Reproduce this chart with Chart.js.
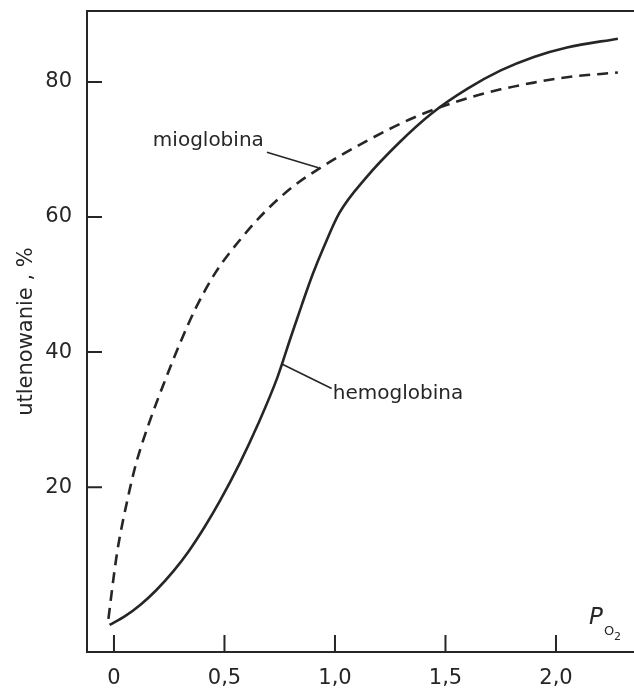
<!DOCTYPE html>
<html>
<head>
<meta charset="utf-8">
<script src="https://cdn.jsdelivr.net/npm/chart.js@4/dist/chart.umd.min.js"></script>
<style>
  body { margin: 0; background: #fff; }
  #wrap { width: 634px; height: 694px; }
</style>
</head>
<body>
<div id="wrap"><canvas id="chart" width="634" height="694"></canvas></div>
<script>
// data (pO2, % oxygenation)
const hbX = [-0.02, 0.05, 0.12, 0.19, 0.27, 0.34, 0.41, 0.48, 0.57, 0.65, 0.74, 0.80, 0.85, 0.90, 0.95, 1.02, 1.14, 1.29, 1.44, 1.60, 1.75, 1.90, 2.05, 2.28];
const hbY = [-0.4, 0.9, 2.6, 4.7, 7.6, 10.6, 14.1, 18.0, 23.6, 29.2, 36.3, 42.2, 47.0, 51.6, 55.6, 60.6, 65.8, 71.0, 75.4, 79.0, 81.7, 83.7, 85.1, 86.4];
const mbX = [-0.025, -0.01, 0.015, 0.06, 0.10, 0.16, 0.23, 0.30, 0.37, 0.46, 0.57, 0.69, 0.81, 0.93, 1.14, 1.37, 1.60, 1.75, 1.90, 2.05, 2.28];
const mbY = [0.5, 4.5, 10.5, 18.0, 23.5, 29.6, 35.7, 41.4, 46.5, 51.8, 56.6, 61.0, 64.5, 67.2, 71.2, 74.9, 77.6, 78.9, 79.9, 80.7, 81.4];

const xTicks = [0, 0.5, 1.0, 1.5, 2.0];
const xTickLabels = ['0', '0,5', '1,0', '1,5', '2,0'];
const yTicks = [20, 40, 60, 80];
const yTickLabels = ['20', '40', '60', '80'];

const ink = '#262626';
const FONT = '"DejaVu Sans", sans-serif';

function pts(xs, ys) {
  return xs.map((x, i) => ({ x: x, y: ys[i] }));
}

// labels + leader lines, placed in data units
const notes = [
  { text: 'mioglobina', at: [0.176, 71.3], line: [[0.692, 69.6], [0.925, 67.3]] },
  { text: 'hemoglobina', at: [0.99, 33.9], line: [[0.762, 38.2], [0.985, 34.6]] }
];

const frame = {
  id: 'frame',
  afterDraw(chart) {
    const ctx = chart.ctx;
    const xs = chart.scales.x, ys = chart.scales.y;
    const a = chart.chartArea;
    ctx.save();
    ctx.strokeStyle = ink;
    ctx.lineWidth = 2;
    // top border
    ctx.beginPath();
    ctx.moveTo(a.left, a.top);
    ctx.lineTo(a.right, a.top);
    ctx.stroke();
    // inward ticks
    ctx.beginPath();
    xTicks.forEach(v => {
      const px = xs.getPixelForValue(v);
      ctx.moveTo(px, a.bottom);
      ctx.lineTo(px, a.bottom - 17);
    });
    yTicks.forEach(v => {
      const py = ys.getPixelForValue(v);
      ctx.moveTo(a.left, py);
      ctx.lineTo(a.left + 15, py);
    });
    ctx.stroke();

    // annotations
    ctx.lineWidth = 1.6;
    ctx.fillStyle = ink;
    ctx.font = '20px ' + FONT;
    ctx.textBaseline = 'middle';
    ctx.textAlign = 'left';
    notes.forEach(n => {
      ctx.beginPath();
      ctx.moveTo(xs.getPixelForValue(n.line[0][0]), ys.getPixelForValue(n.line[0][1]));
      ctx.lineTo(xs.getPixelForValue(n.line[1][0]), ys.getPixelForValue(n.line[1][1]));
      ctx.stroke();
      ctx.fillText(n.text, xs.getPixelForValue(n.at[0]), ys.getPixelForValue(n.at[1]));
    });

    // axis name P_O2
    ctx.font = 'italic 23px ' + FONT;
    ctx.fillText('P', 589, 618);
    ctx.font = '13px ' + FONT;
    ctx.fillText('O', 604, 632);
    ctx.font = '11px ' + FONT;
    ctx.fillText('2', 614, 637);
    ctx.restore();
  }
};

new Chart(document.getElementById('chart'), {
  type: 'scatter',
  data: {
    datasets: [
      {
        label: 'hemoglobina',
        data: pts(hbX, hbY),
        showLine: true,
        borderColor: ink,
        borderWidth: 2.6,
        pointRadius: 0,
        cubicInterpolationMode: 'monotone'
      },
      {
        label: 'mioglobina',
        data: pts(mbX, mbY),
        showLine: true,
        borderColor: ink,
        borderWidth: 2.6,
        borderDash: [11, 7],
        pointRadius: 0,
        cubicInterpolationMode: 'monotone'
      }
    ]
  },
  options: {
    responsive: false,
    animation: false,
    layout: { padding: { top: 11, right: 0, left: 0, bottom: 0 } },
    plugins: {
      legend: { display: false },
      tooltip: { enabled: false }
    },
    scales: {
      x: {
        type: 'linear',
        min: -0.122,
        max: 2.353,
        afterBuildTicks: s => { s.ticks = xTicks.map(v => ({ value: v })); },
        afterFit: s => { s.height = 42; s.paddingLeft = 0; s.paddingRight = 0; },
        grid: { drawOnChartArea: false, drawTicks: false },
        border: { display: true, color: ink, width: 2 },
        ticks: {
          color: ink,
          padding: 14,
          maxRotation: 0,
          autoSkip: false,
          font: { family: FONT, size: 21 },
          callback: v => xTickLabels[xTicks.indexOf(v)]
        }
      },
      y: {
        type: 'linear',
        min: -4.4,
        max: 90.5,
        afterBuildTicks: s => { s.ticks = yTicks.map(v => ({ value: v })); },
        afterFit: s => { s.width = 87; s.paddingTop = 0; s.paddingBottom = 0; },
        grid: { drawOnChartArea: false, drawTicks: false },
        border: { display: true, color: ink, width: 2 },
        title: {
          display: true,
          text: 'utlenowanie , %',
          color: ink,
          font: { family: FONT, size: 21 },
          padding: { top: 14, bottom: 0 }
        },
        ticks: {
          color: ink,
          padding: 15,
          autoSkip: false,
          font: { family: FONT, size: 21 },
          callback: v => yTickLabels[yTicks.indexOf(v)]
        }
      }
    }
  },
  plugins: [frame]
});
</script>
</body>
</html>
